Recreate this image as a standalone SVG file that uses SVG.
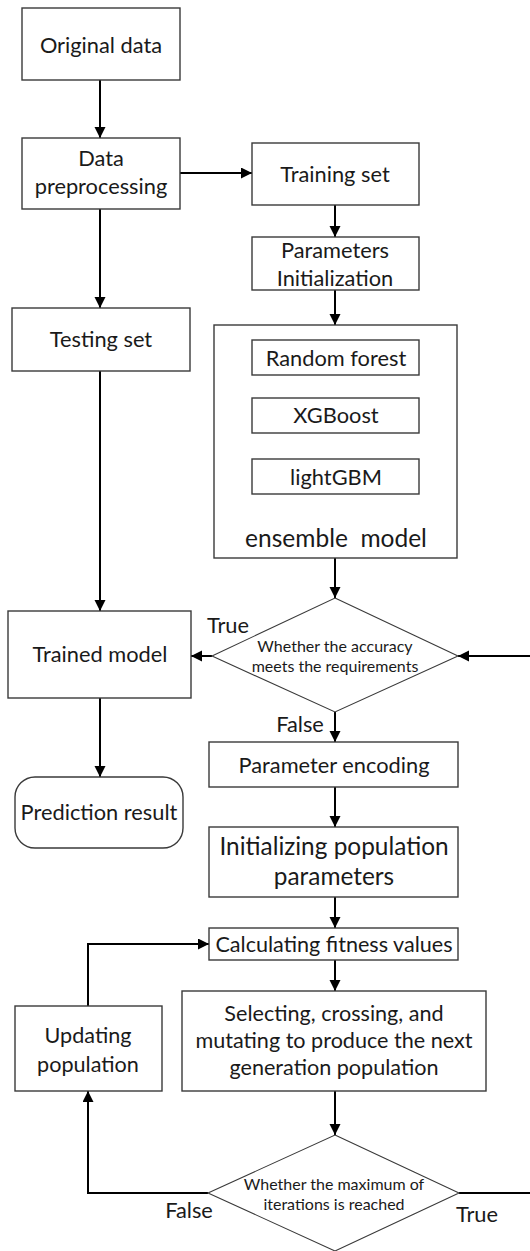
<svg xmlns="http://www.w3.org/2000/svg" width="530" height="1251" viewBox="0 0 530 1251">
<defs>
<marker id="ah" markerUnits="userSpaceOnUse" markerWidth="12" markerHeight="12" refX="11" refY="5.5" orient="auto">
<path d="M0,0 L11,5.5 L0,11 z" fill="#000"/>
</marker>
<style>
.box{fill:#fff;stroke:#3a3a3a;stroke-width:1.4}
.dia{fill:#fff;stroke:#3a3a3a;stroke-width:1.1}
.t{font-family:Lato,"Liberation Sans",sans-serif;fill:#1a1a1a;text-anchor:middle}
.s18{font-size:21.8px}
.s20{font-size:21.6px}
.s22{font-size:24.4px}
.s24{font-size:24.5px}
.s14{font-size:16px}
.conn{fill:none;stroke:#000;stroke-width:2}
</style>
</defs>
<rect width="530" height="1251" fill="#fff"/>

<g id="connectors">
<path class="conn" d="M100,80 V138" marker-end="url(#ah)"/>
<path class="conn" d="M180,173 H252" marker-end="url(#ah)"/>
<path class="conn" d="M100,209 V308" marker-end="url(#ah)"/>
<path class="conn" d="M335,205 V237" marker-end="url(#ah)"/>
<path class="conn" d="M335,290 V325" marker-end="url(#ah)"/>
<path class="conn" d="M100,371 V611" marker-end="url(#ah)"/>
<path class="conn" d="M335,558 V598" marker-end="url(#ah)"/>
<path class="conn" d="M212,656 H191" marker-end="url(#ah)"/>
<path class="conn" d="M530,656 H458" marker-end="url(#ah)"/>
<path class="conn" d="M335,712 V742" marker-end="url(#ah)"/>
<path class="conn" d="M100,698 V777" marker-end="url(#ah)"/>
<path class="conn" d="M335,787 V827" marker-end="url(#ah)"/>
<path class="conn" d="M335,897 V928" marker-end="url(#ah)"/>
<path class="conn" d="M335,960 V991" marker-end="url(#ah)"/>
<path class="conn" d="M335,1091 V1135" marker-end="url(#ah)"/>
<path class="conn" d="M88,1006 V944 H209" marker-end="url(#ah)"/>
<path class="conn" d="M208,1193 H88 V1091" marker-end="url(#ah)"/>
<path class="conn" d="M459,1193 H530"/>
</g>

<g id="original-data">
<rect class="box" x="22" y="8" width="158" height="72"/>
<text class="t s18" x="101" y="53">Original data</text>
</g>
<g id="data-preprocessing">
<rect class="box" x="22" y="138" width="158" height="71"/>
<text class="t s18" x="101" y="166">Data</text>
<text class="t s18" x="101" y="194">preprocessing</text>
</g>
<g id="training-set">
<rect class="box" x="252" y="143" width="167" height="62"/>
<text class="t s18" x="335" y="182">Training set</text>
</g>
<g id="parameters-initialization">
<rect class="box" x="252" y="237" width="167" height="53"/>
<text class="t s18" x="335" y="258">Parameters</text>
<text class="t s18" x="335" y="286">Initialization</text>
</g>
<g id="testing-set">
<rect class="box" x="12" y="308" width="178" height="63"/>
<text class="t s18" x="101" y="347">Testing set</text>
</g>
<g id="ensemble-model">
<rect class="box" x="214" y="325" width="243" height="233"/>
<text class="t s24" x="336" y="547" xml:space="preserve">ensemble  model</text>
</g>
<g id="random-forest">
<rect class="box" x="252" y="340" width="167" height="35"/>
<text class="t s18" x="336" y="366">Random forest</text>
</g>
<g id="xgboost">
<rect class="box" x="252" y="398" width="167" height="35"/>
<text class="t s18" x="336" y="423">XGBoost</text>
</g>
<g id="lightgbm">
<rect class="box" x="252" y="459" width="167" height="35"/>
<text class="t s18" x="336" y="485">lightGBM</text>
</g>
<g id="accuracy-check">
<polygon class="dia" points="335,598 458,656 335,712 212,656"/>
<text class="t s14" x="335" y="652">Whether the accuracy</text>
<text class="t s14" x="335" y="672">meets the requirements</text>
</g>
<g id="trained-model">
<rect class="box" x="8" y="611" width="183" height="87"/>
<text class="t s18" x="100" y="662">Trained model</text>
</g>
<g id="prediction-result">
<rect class="box" x="15" y="777" width="168" height="71" rx="20" ry="20"/>
<text class="t s18" x="99" y="820">Prediction result</text>
</g>
<g id="parameter-encoding">
<rect class="box" x="209" y="742" width="249" height="45"/>
<text class="t s18" x="334" y="773">Parameter encoding</text>
</g>
<g id="initializing-population">
<rect class="box" x="209" y="827" width="249" height="70"/>
<text class="t s22" x="334" y="855">Initializing population</text>
<text class="t s22" x="334" y="885">parameters</text>
</g>
<g id="calculating-fitness">
<rect class="box" x="209" y="928" width="249" height="32"/>
<text class="t s20" x="334" y="952">Calculating fitness values</text>
</g>
<g id="selecting-crossing">
<rect class="box" x="182" y="991" width="304" height="100"/>
<text class="t s20" x="334" y="1021">Selecting, crossing, and</text>
<text class="t s20" x="334" y="1048">mutating to produce the next</text>
<text class="t s20" x="334" y="1075">generation population</text>
</g>
<g id="updating-population">
<rect class="box" x="15" y="1006" width="147" height="85"/>
<text class="t s20" x="88" y="1043">Updating</text>
<text class="t s20" x="88" y="1072">population</text>
</g>
<g id="iterations-check">
<polygon class="dia" points="335,1135 459,1193 335,1251 208,1193"/>
<text class="t s14" x="334" y="1190">Whether the maximum of</text>
<text class="t s14" x="334" y="1210">iterations is reached</text>
</g>
<g id="labels">
<text class="t s18" x="228" y="633">True</text>
<text class="t s18" x="300" y="732">False</text>
<text class="t s18" x="189" y="1218">False</text>
<text class="t s18" x="477" y="1222">True</text>
</g>
</svg>
